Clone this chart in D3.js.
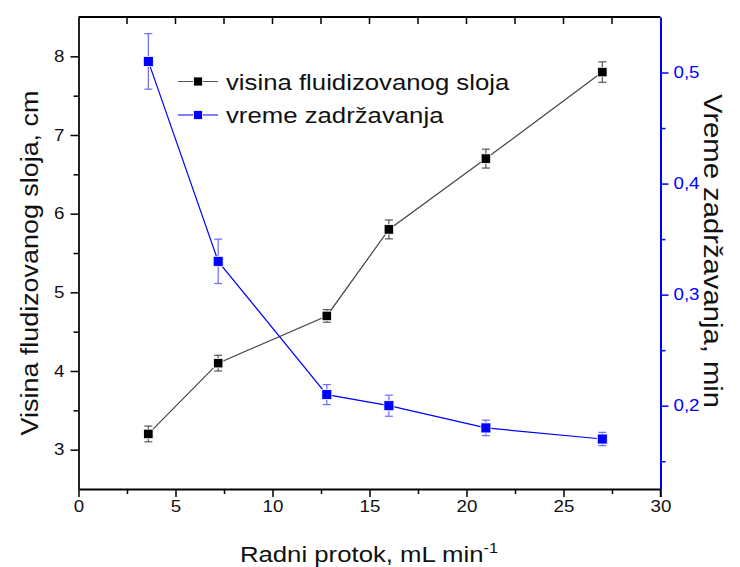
<!DOCTYPE html>
<html><head><meta charset="utf-8">
<script src="https://cdn.jsdelivr.net/npm/d3@7"></script>
<style>body{margin:0;background:#fff}svg{display:block}text{font-family:"Liberation Sans",Arial,sans-serif}</style>
</head><body>
<svg id="c" width="740" height="567"></svg>
<script>
const flow = [3.6, 7.2, 12.8, 16, 21, 27];
const height = [3.2, 4.1, 4.7, 5.8, 6.7, 7.8];
const heightErr = [0.1, 0.1, 0.08, 0.12, 0.12, 0.13];
const time = [0.51, 0.33, 0.21, 0.20, 0.18, 0.17];
const timeErr = [0.025, 0.02, 0.009, 0.0095, 0.007, 0.006];
const xTicks = [0, 5, 10, 15, 20, 25, 30];
const yLeftTicks = [3, 4, 5, 6, 7, 8];
const yRightTicks = [0.2, 0.3, 0.4, 0.5];
const seriesNames = ["visina fluidizovanog sloja", "vreme zadržavanja"];

const svg = d3.select("#c");
const L = 78.5, R = 660.5, T = 17, B = 489;
const SX = 1.17;
const x = d3.scaleLinear().domain([0, 30]).range([L, R]);
const yl = d3.scaleLinear().domain([2.5, 8.5]).range([B, T]);
const yr = d3.scaleLinear().domain([0.125, 0.55]).range([B, T]);
const blue = "#0000ff";

function stretch(sel) {
  sel.each(function () {
    const l = this.getComputedTextLength();
    d3.select(this).attr("textLength", l * SX).attr("lengthAdjust", "spacingAndGlyphs");
  });
}

// top frame with inward ticks
svg.append("line").attr("x1", L).attr("x2", R).attr("y1", T).attr("y2", T).attr("stroke", "#000").attr("stroke-width", 2);
d3.range(2.5, 30, 2.5).forEach(v => {
  svg.append("line").attr("x1", x(v)).attr("x2", x(v)).attr("y1", T).attr("y2", T + 7).attr("stroke", "#000").attr("stroke-width", 1.5);
});

// bottom axis
const gx = svg.append("g").attr("transform", `translate(0,${B})`)
  .call(d3.axisBottom(x).tickValues(xTicks).tickSize(8).tickPadding(4).tickSizeOuter(0));
gx.selectAll("text").attr("font-size", 16).attr("fill", "#111").call(stretch);
gx.select(".domain").attr("stroke", "#000").attr("stroke-width", 2);
gx.selectAll(".tick line").attr("stroke-width", 1.5);
svg.append("g").attr("transform", `translate(0,${B})`)
  .call(d3.axisBottom(x).tickValues(d3.range(2.5, 30, 5)).tickSize(5).tickFormat(""))
  .call(g => { g.select(".domain").remove(); g.selectAll("line").attr("stroke-width", 1.5); });

// left axis
const gl = svg.append("g").attr("transform", `translate(${L},0)`)
  .call(d3.axisLeft(yl).tickValues(yLeftTicks).tickSize(8).tickPadding(6).tickSizeOuter(0).tickFormat(d3.format("d")));
gl.selectAll("text").attr("font-size", 16).attr("fill", "#111").call(stretch);
gl.select(".domain").attr("stroke", "#222").attr("stroke-width", 2);
gl.selectAll(".tick line").attr("stroke-width", 1.5);
svg.append("g").attr("transform", `translate(${L},0)`)
  .call(d3.axisLeft(yl).tickValues([3.5, 4.5, 5.5, 6.5, 7.5]).tickSize(5).tickFormat(""))
  .call(g => { g.select(".domain").remove(); g.selectAll("line").attr("stroke-width", 1.5); });

// right axis
const fmtComma = d => d3.format(".1f")(d).replace(".", ",");
const gr = svg.append("g").attr("transform", `translate(${R},0)`)
  .call(d3.axisRight(yr).tickValues(yRightTicks).tickSize(8).tickPadding(5).tickSizeOuter(0).tickFormat(fmtComma));
gr.selectAll("text").attr("font-size", 16).attr("fill", blue).call(stretch);
gr.select(".domain").attr("stroke", blue).attr("stroke-width", 2);
gr.selectAll(".tick line").attr("stroke", blue).attr("stroke-width", 1.5);
svg.append("g").attr("transform", `translate(${R},0)`)
  .call(d3.axisRight(yr).tickValues([0.15, 0.25, 0.35, 0.45]).tickSize(5).tickFormat(""))
  .call(g => { g.select(".domain").remove(); g.selectAll("line").attr("stroke", blue).attr("stroke-width", 1.5); });
svg.append("line").attr("x1", R).attr("x2", R).attr("y1", B).attr("y2", B + 8).attr("stroke", "#000").attr("stroke-width", 1.5);

// axis titles
svg.append("text").attr("transform", `translate(38,263) rotate(-90) scale(${SX},1)`).attr("text-anchor", "middle")
  .attr("font-size", 23).attr("fill", "#111").text("Visina fludizovanog sloja, cm");
svg.append("text").attr("transform", `translate(704,251) rotate(90) scale(${SX},1)`).attr("text-anchor", "middle")
  .attr("font-size", 25).attr("fill", "#111").text("Vreme zadržavanja, min");
const xt = svg.append("text").attr("transform", `translate(369,562) scale(${SX},1)`).attr("text-anchor", "middle")
  .attr("font-size", 22).attr("fill", "#111");
xt.append("tspan").text("Radni protok, mL min");
xt.append("tspan").attr("font-size", 14).attr("dy", -9).text("-1");

// series
function drawSeries(vals, errs, ys, lineColor, errColor, markColor, size) {
  const data = flow.map((f, i) => ({ f, v: vals[i], e: errs[i] }));
  svg.append("path").datum(data)
    .attr("d", d3.line().x(d => x(d.f)).y(d => ys(d.v)))
    .attr("fill", "none").attr("stroke", lineColor).attr("stroke-width", 1.2);
  const g = svg.append("g");
  data.forEach(d => {
    const cx = x(d.f), y1 = ys(d.v + d.e), y2 = ys(d.v - d.e);
    g.append("line").attr("x1", cx).attr("x2", cx).attr("y1", y1).attr("y2", y2).attr("stroke", errColor).attr("stroke-width", 1.2);
    [y1, y2].forEach(yy => g.append("line").attr("x1", cx - 4).attr("x2", cx + 4).attr("y1", yy).attr("y2", yy).attr("stroke", errColor).attr("stroke-width", 1.2));
    g.append("rect").attr("x", cx - size / 2).attr("y", ys(d.v) - size / 2).attr("width", size).attr("height", size)
      .attr("fill", markColor).attr("stroke", "#fff").attr("stroke-width", 0.8);
  });
}
drawSeries(height, heightErr, yl, "#444", "#555", "#000", 9.5);
drawSeries(time, timeErr, yr, blue, "#6b6bff", blue, 10);

// legend
const leg = [{ name: seriesNames[0], line: "#555", mark: "#000" }, { name: seriesNames[1], line: blue, mark: blue }];
leg.forEach((d, i) => {
  const yy = 81.5 + i * 33.5;
  svg.append("line").attr("x1", 178).attr("x2", 218).attr("y1", yy).attr("y2", yy).attr("stroke", d.line).attr("stroke-width", 1.2);
  svg.append("rect").attr("x", 198 - 4.5).attr("y", yy - 4.5).attr("width", 9).attr("height", 9).attr("fill", d.mark).attr("stroke", "#fff").attr("stroke-width", 0.8);
  svg.append("text").attr("x", 226).attr("y", yy + 8).attr("font-size", 22).attr("fill", "#111").text(d.name).call(stretch);
});
</script>
</body></html>
